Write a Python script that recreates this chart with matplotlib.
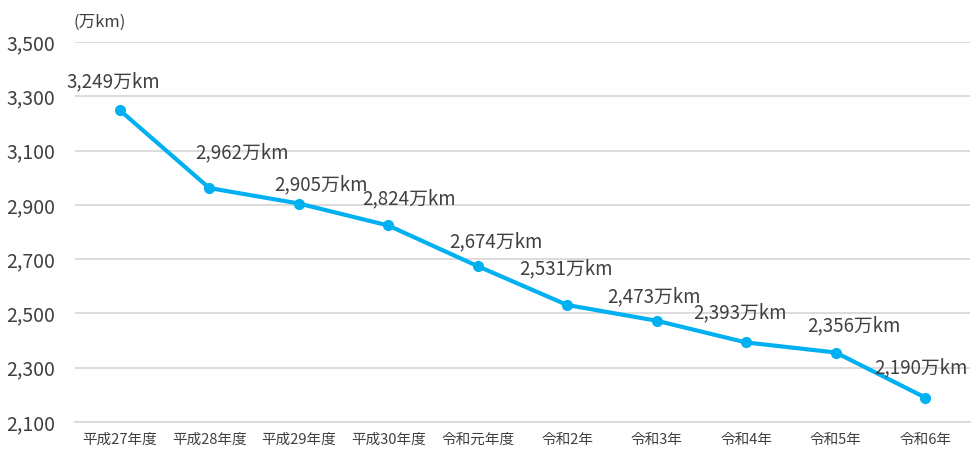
import matplotlib
import matplotlib.pyplot as plt

matplotlib.rcParams['font.family'] = ['Noto Sans CJK JP', 'DejaVu Sans']

#############################################
#Data
years = ['平成27年度', '平成28年度', '平成29年度', '平成30年度', '令和元年度',
         '令和2年', '令和3年', '令和4年', '令和5年', '令和6年']
distance = [3249, 2962, 2905, 2824, 2674, 2531, 2473, 2393, 2356, 2190]
y_ticks = [2100, 2300, 2500, 2700, 2900, 3100, 3300, 3500]

# label offsets from each point, in pixels (dx, dy)
label_off = [(-6, 28), (33, 35), (22, 19), (21, 27), (18, 24),
             (-1, 36), (-3, 24), (-6, 30), (18, 27), (-4, 30)]
#############################################

txt_col = '#404040'
line_col = '#00B0F0'

fig = plt.figure(figsize=(9.72, 4.5), dpi=100)
ax = fig.add_axes([75/972, 1 - 422/450, 895/972, (422 - 42)/450 * 1.0])

x = list(range(len(years)))
ax.plot(x, distance, color=line_col, linewidth=3, marker='o',
        markersize=7, zorder=3, solid_capstyle='round')

for xi, v, (dx, dy) in zip(x, distance, label_off):
    ax.annotate(f'{v:,}万km', (xi, v), xytext=(dx, dy),
                textcoords='offset pixels', ha='center', va='center',
                fontsize=13.5, color=txt_col)

ax.set_xlim(-0.5, len(years) - 0.5)
ax.set_ylim(2100, 3500)
ax.set_yticks(y_ticks)
ax.set_yticklabels([f'{t:,}' for t in y_ticks])
ax.set_xticks(x)
ax.set_xticklabels(years)

ax.tick_params(axis='y', length=0, pad=14, labelsize=14, labelcolor=txt_col)
ax.tick_params(axis='x', length=0, pad=8, labelsize=10.5, labelcolor=txt_col)
ax.grid(axis='y', color='#D9D9D9', linewidth=1.3)
ax.set_axisbelow(True)
for s in ['top', 'right', 'left']:
    ax.spines[s].set_visible(False)
ax.spines['bottom'].set_color('#D9D9D9')
ax.spines['bottom'].set_linewidth(1.3)

fig.text(73/972, 1 - 22/450, '(万km)', fontsize=12, color=txt_col,
         ha='left', va='center')

plt.savefig('out.png', dpi=100)
